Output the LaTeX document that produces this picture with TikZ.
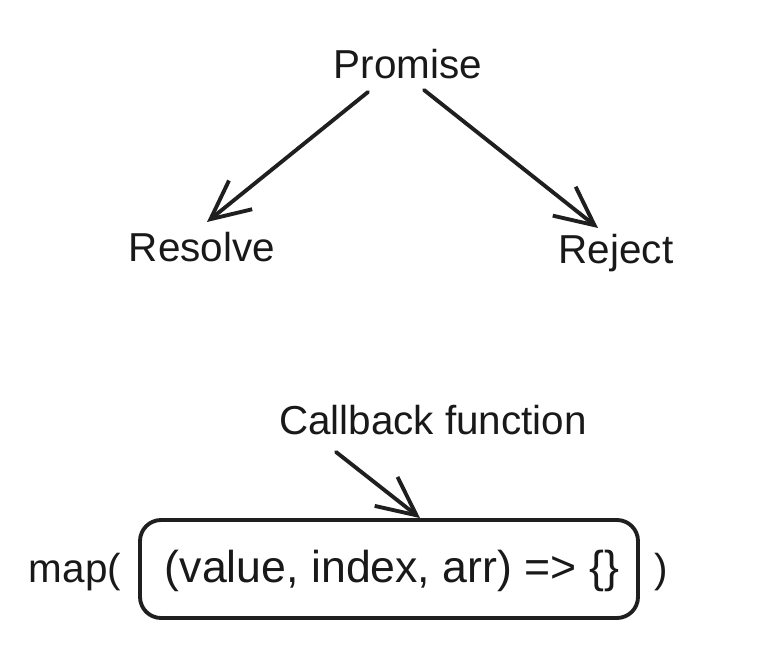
\documentclass[tikz,border=0pt]{standalone}
\usepackage{fontspec}
\setmainfont{Liberation Sans}
\usetikzlibrary{arrows.meta,calc}
\begin{document}
\begin{tikzpicture}[
  lbl/.style={inner sep=0pt, font=\fontsize{11.5}{14}\selectfont, text=black!90},
  arr/.style={line width=1.1pt, draw=black!88, line cap=round, line join=round,
    -{Straight Barb[length=11pt,width=10.5pt,line width=1.1pt]}},
  fbox/.style={draw=black!88, line width=1.1pt, rounded corners=6pt, minimum width=4.98cm, minimum height=0.98cm, inner sep=0pt}
]
\useasboundingbox[fill=white] (0,0) rectangle (7.83,6.64);
\node[lbl] (promise) at (4.08,6.00) {Promise};
\node[lbl] (resolve) at (2.02,4.17) {Resolve};
\node[lbl] (reject) at (6.16,4.11) {Reject};
\node[lbl] (callback) at (4.33,2.44) {Callback function};
\node[fbox] (box) at (3.89,0.95) {};
\node[lbl, font=\fontsize{12.7}{15}\selectfont] (code) at (3.92,0.93) {(value, index, arr) =>\ \{\}};
\node[lbl] (map) at (0.75,0.92) {map(};
\node[lbl] (close) at (6.61,0.92) {)};
\draw[arr] ($(promise)+(-0.40,-0.28)$) -- ($(resolve)+(0.05,0.25)$);
\draw[arr] ($(promise)+(0.16,-0.26)$) -- ($(reject)+(-0.18,0.25)$);
\draw[arr] ($(callback)+(-0.97,-0.32)$) -- ($(box.north)+(0.31,0.0)$);
\end{tikzpicture}
\end{document}
